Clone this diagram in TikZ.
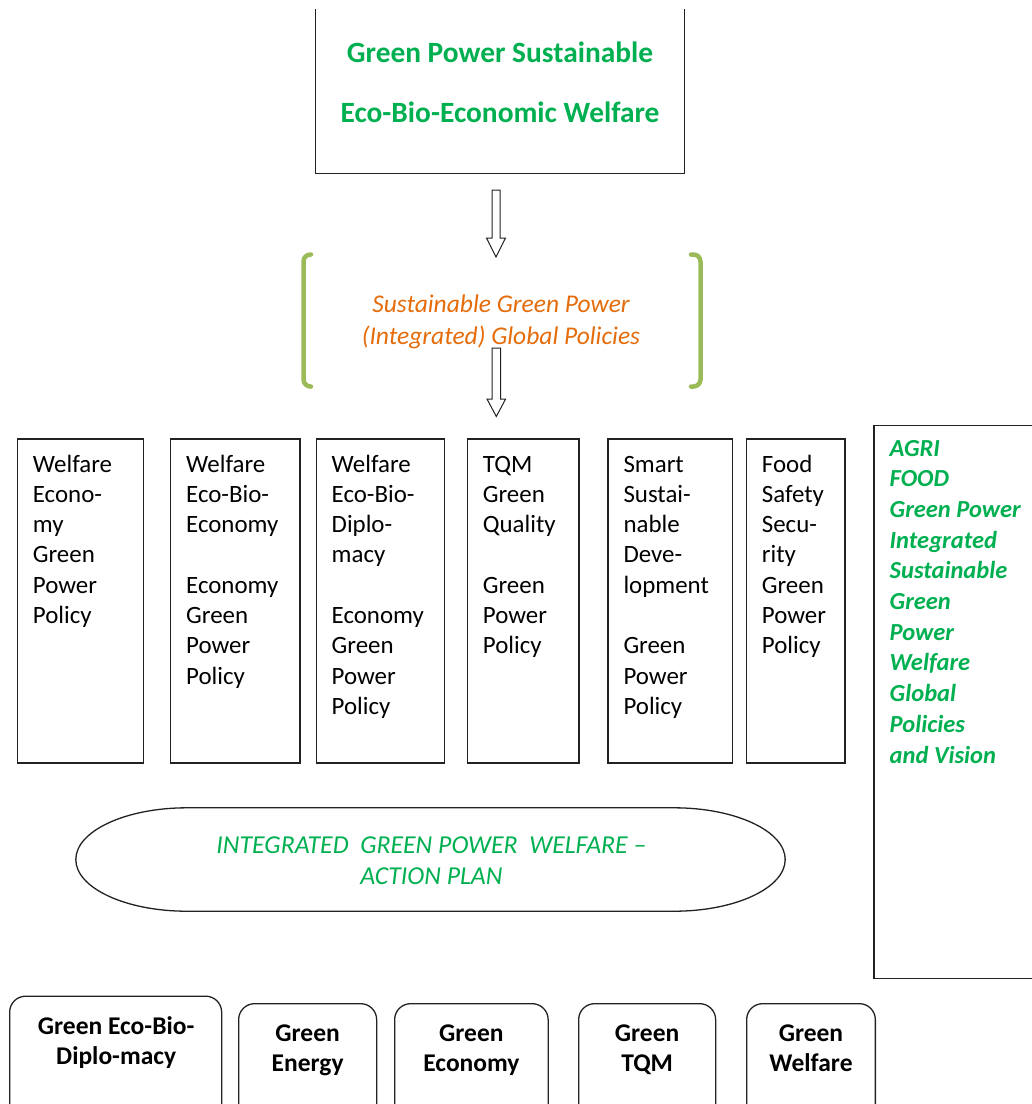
\documentclass[tikz,border=0pt]{standalone}
\usepackage{fontspec}
\setmainfont{Carlito}[Ligatures=CommonOff]
\usetikzlibrary{calc}
\definecolor{tgreen}{HTML}{00B050}
\definecolor{torange}{HTML}{E46C0A}
\definecolor{bgreen}{HTML}{9BBB59}
\definecolor{lineblack}{HTML}{222222}
\begin{document}
\begin{tikzpicture}[x=1pt,y=-1pt,
  boxline/.style={draw=lineblack, line width=1.3pt},
  frame/.style={boxline, rectangle, inner sep=0pt},
  blank/.style={rectangle, inner sep=0pt},
  rframe/.style={boxline, rectangle, rounded corners=16pt, inner sep=0pt, anchor=north west},
  bodytxt/.style={inner sep=0pt, anchor=base west, align=left, text=black,
    font=\fontsize{24.9}{30.3}\selectfont},
  goaltxt/.style={inner sep=0pt, anchor=base, align=center, text=tgreen,
    font=\bfseries\fontsize{29.4}{60}\selectfont},
  poltxt/.style={inner sep=0pt, anchor=base, align=center, text=torange,
    font=\itshape\fontsize{25.5}{31.3}\selectfont},
  vistxt/.style={inner sep=0pt, anchor=base west, align=left, text=tgreen,
    font=\bfseries\itshape\fontsize{24.5}{30.7}\selectfont},
  plantxt/.style={inner sep=0pt, anchor=base, align=center, text=tgreen,
    font=\itshape\fontsize{25.8}{31}\selectfont},
  btmtxt/.style={inner sep=0pt, anchor=base, align=center, text=black,
    font=\bfseries\fontsize{25.5}{30.5}\selectfont},
  bracket/.style={draw=bgreen, line width=4.5pt, rounded corners=7pt, line cap=round},
  hollowarrow/.style={draw=lineblack, line width=1pt, fill=white, line join=miter}
]
\useasboundingbox (0,0) rectangle (1032,1104);

% ---------- top box (top edge outside the picture) ----------
\node[blank, minimum width=368pt, minimum height=164pt] (goal) at (500,91) {};
\draw[boxline] (goal.north west) -- (goal.south west) -- (goal.south east) -- (goal.north east);
% base anchor = baseline of the last line
\node[goaltxt] (goaltext) at (500,122.3) {Green Power Sustainable\\Eco-Bio-Economic Welfare};

% ---------- arrow 1 ----------
\coordinate (a1s) at (496,190);
\coordinate (a1e) at (496,257);
\draw[hollowarrow] ($(a1s)+(-4,0)$) -- ($(a1e)+(-4,-19)$) -- ($(a1e)+(-9.5,-19)$) -- (a1e)
  -- ($(a1e)+(9.5,-19)$) -- ($(a1e)+(4,-19)$) -- ($(a1s)+(4,0)$) -- cycle;

% ---------- brackets and policy text ----------
\draw[bracket] (311,254.5) -- (303.5,254.5) -- (303.5,386.5) -- (311,386.5);
\draw[bracket] (691,254.5) -- (700.5,254.5) -- (700.5,386.5) -- (691,386.5);
\node[poltxt] (policies) at (501,344) {Sustainable Green Power\\(Integrated) Global Policies};

% ---------- arrow 2 ----------
\coordinate (a2s) at (496.3,348);
\coordinate (a2e) at (496.3,416.5);
\draw[hollowarrow] ($(a2s)+(-4.3,0)$) -- ($(a2e)+(-4.3,-17.5)$) -- ($(a2e)+(-9.3,-17.5)$) -- (a2e)
  -- ($(a2e)+(9.3,-17.5)$) -- ($(a2e)+(4.3,-17.5)$) -- ($(a2s)+(4.3,0)$) -- cycle;

% ---------- six policy boxes ----------
\foreach \n/\l/\r/\k/\t in {
  1/16.7/142.7/6/{Welfare\\Econo-\\my\\Green\\Power\\Policy},
  2/170/299.3/8/{Welfare\\Eco-Bio-\\Economy\\~\\Economy\\Green\\Power\\Policy},
  3/315.5/443.7/9/{Welfare\\Eco-Bio-\\Diplo-\\macy\\~\\Economy\\Green\\Power\\Policy},
  4/466.7/578.3/7/{TQM\\Green\\Quality\\~\\Green\\Power\\Policy},
  5/607.3/731.5/9/{Smart\\Sustai-\\nable\\Deve-\\lopment\\~\\Green\\Power\\Policy},
  6/745.7/844.3/7/{Food\\Safety\\Secu-\\rity\\Green\\Power\\Policy}}{
  \node[frame, anchor=north west, minimum width={\r-\l}, minimum height=324pt] (b\n) at (\l,438.3) {};
  \node[bodytxt] (b\n t) at ($(b\n.north west)+(16,{33.7+(\k-1)*30.3})$) {\t};
}

% ---------- right vision box (right edge outside the picture) ----------
\node[frame, anchor=north west, minimum width=175pt, minimum height=553pt] (vision) at (873.3,425) {};
\node[vistxt] (visiontext) at (889.5,763) {AGRI\\FOOD\\Green Power\\Integrated\\Sustainable\\Green\\Power\\Welfare\\Global\\Policies\\and Vision};

% ---------- action plan oval ----------
\node[blank, minimum width=709pt, minimum height=103pt] (plan) at (430.5,859.5) {};
\draw[boxline]
  ($(plan.north west)+(111,0)$) -- ($(plan.north east)+(-111,0)$)
  .. controls ($(plan.north east)+(-49.7,0)$) and ($(plan.east)+(0,-28.4)$) .. (plan.east)
  .. controls ($(plan.east)+(0,28.4)$) and ($(plan.south east)+(-49.7,0)$) .. ($(plan.south east)+(-111,0)$)
  -- ($(plan.south west)+(111,0)$)
  .. controls ($(plan.south west)+(49.7,0)$) and ($(plan.west)+(0,28.4)$) .. (plan.west)
  .. controls ($(plan.west)+(0,-28.4)$) and ($(plan.north west)+(49.7,0)$) .. ($(plan.north west)+(111,0)$)
  -- cycle;
\node[plantxt] (plantext) at (431.5,884) {INTEGRATED\ \ GREEN POWER\ \ WELFARE –\\ACTION PLAN};

% ---------- bottom rounded boxes (bottom edge outside the picture) ----------
\node[rframe, minimum width=212pt, minimum height=150pt] (g1) at (9,995.5) {};
\node[rframe, minimum width=138pt, minimum height=150pt] (g2) at (238,1003) {};
\node[rframe, minimum width=153.5pt, minimum height=150pt] (g3) at (394,1003) {};
\node[rframe, minimum width=137pt, minimum height=150pt] (g4) at (578,1003) {};
\node[rframe, minimum width=128.7pt, minimum height=150pt] (g5) at (746,1003) {};
\node[btmtxt] (g1t) at ($(g1.north)+(0.5,69)$) {Green Eco-Bio-\\Diplo-macy};
\node[btmtxt] (g2t) at ($(g2.north)+(0,68.5)$) {Green\\Energy};
\node[btmtxt] (g3t) at ($(g3.north)+(0,68.5)$) {Green\\Economy};
\node[btmtxt] (g4t) at ($(g4.north)+(0,68.5)$) {Green\\TQM};
\node[btmtxt] (g5t) at ($(g5.north)+(0,68.5)$) {Green\\Welfare};
\end{tikzpicture}
\end{document}
